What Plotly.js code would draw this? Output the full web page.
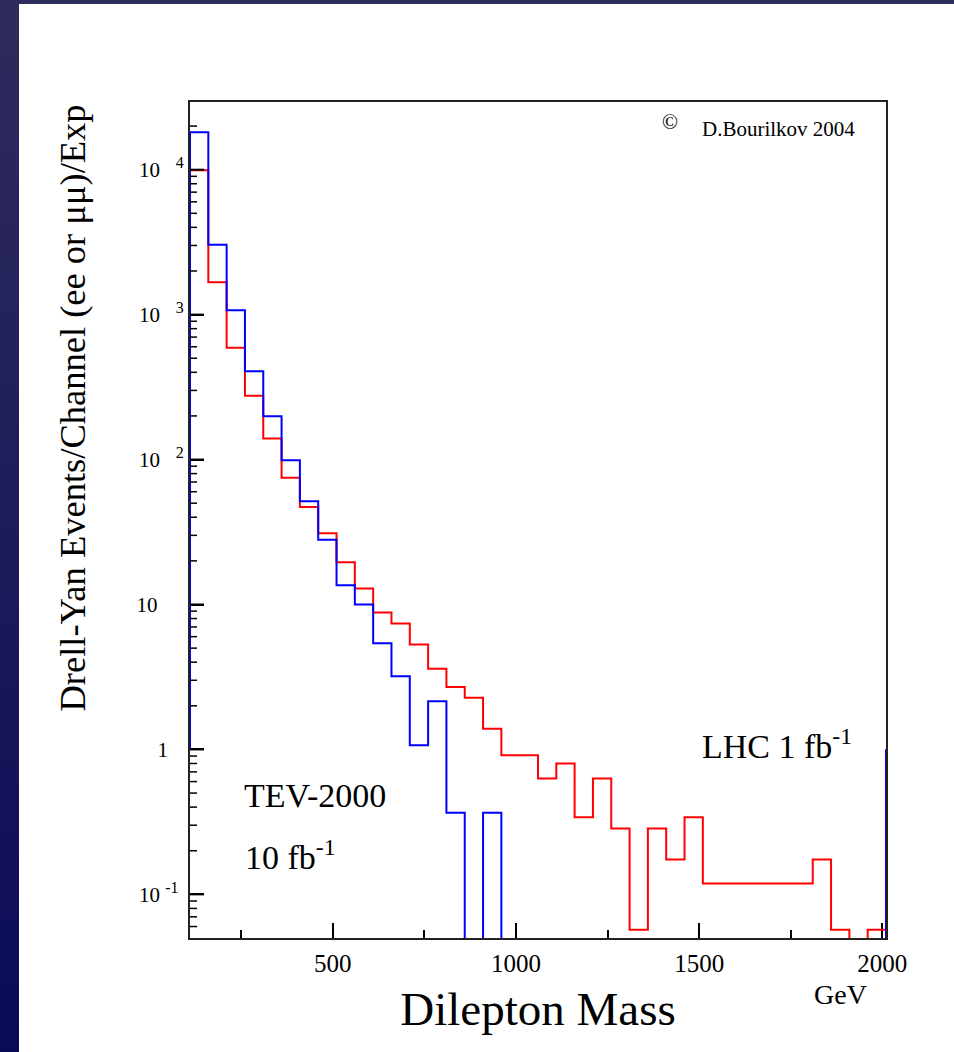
<!DOCTYPE html>
<html><head><meta charset="utf-8">
<script src="https://cdn.plot.ly/plotly-3.0.1.min.js"></script>
<style>
html,body{margin:0;padding:0;width:954px;height:1052px;overflow:hidden;background:linear-gradient(to bottom,#2e2c5c 0%,#1d1c5a 50%,#0b0a58 100%);}
#sheet{position:absolute;left:19px;top:4px;right:0;bottom:0;background:#ffffff;}
#chart{position:absolute;left:0;top:0;width:954px;height:1052px;}
</style></head>
<body><div id="sheet"></div><div id="chart"></div>
<script>
// Bin edges (GeV), 38 bins of 50 GeV
const binEdges = [110,160,210,260,310,360,410,460,510,560,610,660,710,760,810,860,910,960,1010,1060,
                  1110,1160,1210,1260,1310,1360,1410,1460,1510,1560,1610,1660,1710,1760,1810,1860,1910,1960,2010];
// LHC 1 fb^-1 (red)
const lhcValues = [9900,1670,590,276,140,75,47,31,19.6,12.9,8.8,7.4,5.3,3.6,2.7,2.27,1.39,0.91,0.91,0.63,
                   0.80,0.34,0.63,0.285,0.057,0.285,0.174,0.34,0.119,0.119,0.119,0.119,0.119,0.119,0.174,0.057,0,0.057];
// TEV-2000 10 fb^-1 (blue)
const tevValues = [18100,3040,1070,406,199,99,51.5,28,13.6,10,5.4,3.2,1.07,2.15,0.366,0,0.366,0,0,0,
                   0,0,0,0,0,0,0,0,0,0,0,0,0,0,0,0,0,0];
const yTickVals = [0.1,1,10,100,1000,10000];
const yTickText = ['10\u00a0<sup><span style="font-size:16px">-1</span></sup>\u00a0',
                   '1\u00a0\u00a0\u00a0',
                   '10\u00a0\u00a0\u00a0\u00a0\u00a0',
                   '10\u00a0\u00a0\u00a0<sup><span style="font-size:16px">2</span></sup>',
                   '10\u00a0\u00a0\u00a0<sup><span style="font-size:16px">3</span></sup>',
                   '10\u00a0\u00a0\u00a0<sup><span style="font-size:16px">4</span></sup>'];
const xTickVals = [500,1000,1500,2000];
const xMinorVals = [250,750,1250,1750];
const yMinorDigits = [2,3,4,5,6,7,8,9];
const yMinorDecades = [0.01,0.1,1,10,100,1000,10000];

const baselineLevel = 1;     // histogram outline starts/ends at this level
const belowAxis = 1e-3;      // empty bins drawn below visible range

function stepOutline(values){
  const xs=[binEdges[0]], ys=[baselineLevel];
  values.forEach((v,i)=>{ xs.push(binEdges[i]); ys.push(v>0?v:belowAxis); });
  xs.push(binEdges[binEdges.length-1]); ys.push(baselineLevel);
  return {xs, ys};
}
const red = stepOutline(lhcValues), blue = stepOutline(tevValues);
const yMinorVals = [];
yMinorDecades.forEach(d=>yMinorDigits.forEach(k=>{ const v=k*d; if(v>0.05 && v<29000) yMinorVals.push(v); }));
const serif = 'Liberation Serif, Times New Roman, serif';

// y-axis tick marks (ROOT style comb) as axis decorations
function tickShape(v, len, w){
  return {type:'line', xref:'paper', xsizemode:'pixel', xanchor:0, x0:0, x1:len, yref:'y', y0:v, y1:v,
          line:{color:'#000', width:w}, layer:'above'};
}
const tickShapes = yMinorVals.map(v=>tickShape(v,7,1.5)).concat(yTickVals.map(v=>tickShape(v,14,2)));

const traces = [
  {x:red.xs, y:red.ys, type:'scatter', mode:'lines', line:{shape:'hv', color:'#ff0000', width:2}, name:'LHC 1 fb-1', hoverinfo:'skip'},
  {x:blue.xs, y:blue.ys, type:'scatter', mode:'lines', line:{shape:'hv', color:'#0000ff', width:2}, name:'TEV-2000 10 fb-1', hoverinfo:'skip'}
];

const layout = {
  width:954, height:1052,
  margin:{l:190, r:68, t:102, b:114},
  paper_bgcolor:'rgba(0,0,0,0)', plot_bgcolor:'#ffffff',
  showlegend:false,
  font:{family:serif, color:'#000'},
  xaxis:{range:[110,2010], tickmode:'array', tickvals:xTickVals, ticks:'inside', ticklen:15, tickwidth:2, tickcolor:'#000',
         minor:{tickmode:'array', tickvals:xMinorVals, ticks:'inside', ticklen:8, tickwidth:2, tickcolor:'#000'},
         showline:true, linecolor:'#222', linewidth:2, mirror:true, showgrid:false, zeroline:false,
         tickfont:{family:serif, size:25, color:'#000'}, ticklabelstandoff:2, layer:'below traces',
         title:{text:'Dilepton Mass', font:{family:serif, size:47, color:'#000'}, standoff:16}},
  yaxis:{type:'log', range:[-1.301,4.467], tickmode:'array', tickvals:yTickVals, ticktext:yTickText,
         ticks:'inside', ticklen:14, tickwidth:2, tickcolor:'#000',
         showline:true, linecolor:'#222', linewidth:2, mirror:true, showgrid:false, zeroline:false,
         tickfont:{family:serif, size:21, color:'#000'}, layer:'below traces'},
  shapes: tickShapes,
  annotations:[
    {text:'Drell-Yan Events/Channel (ee or μμ)/Exp', textangle:-90, xref:'paper', yref:'paper', x:-0.1695, y:0.9988,
     xanchor:'center', yanchor:'top', showarrow:false, font:{family:serif, size:36.5, color:'#000'}},
    {text:'GeV', xref:'paper', yref:'paper', x:0.935, y:-0.068, xanchor:'center', yanchor:'middle', showarrow:false,
     font:{family:serif, size:28, color:'#000'}},
    {text:'©', xref:'paper', yref:'paper', x:0.69, y:0.976, xanchor:'center', yanchor:'middle', showarrow:false,
     font:{family:serif, size:21, color:'#000'}},
    {text:'D.Bourilkov 2004', xref:'paper', yref:'paper', x:0.733, y:0.9677, xanchor:'left', yanchor:'middle', showarrow:false,
     font:{family:serif, size:21, color:'#000'}},
    {text:'TEV-2000', xref:'paper', yref:'paper', x:0.0747, y:0.170, xanchor:'left', yanchor:'middle', showarrow:false,
     font:{family:serif, size:34, color:'#000'}},
    {text:'10 fb<sup>-1</sup>', xref:'paper', yref:'paper', x:0.0761, y:0.0993, xanchor:'left', yanchor:'middle', showarrow:false,
     font:{family:serif, size:34, color:'#000'}},
    {text:'LHC 1 fb<sup>-1</sup>', xref:'paper', yref:'paper', x:0.733, y:0.232, xanchor:'left', yanchor:'middle', showarrow:false,
     font:{family:serif, size:34, color:'#000'}}
  ]
};
Plotly.newPlot('chart', traces, layout, {staticPlot:true, displayModeBar:false});
</script>
</body></html>
